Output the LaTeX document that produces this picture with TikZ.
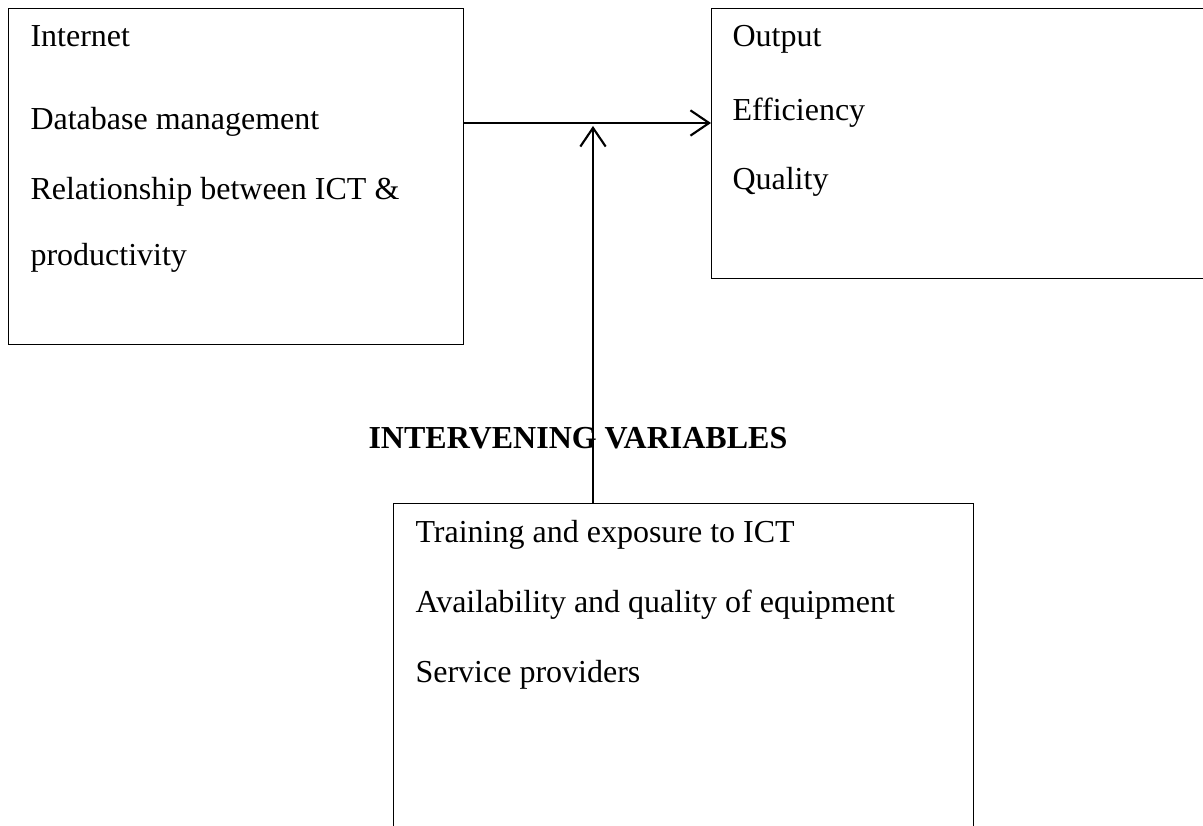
\documentclass[tikz,border=0pt]{standalone}
\usepackage{fontspec}
\setmainfont{Liberation Serif}
\usetikzlibrary{positioning,arrows.meta}

\tikzset{
  varbox/.style={draw, line width=0.5pt, anchor=north west, inner sep=0pt},
  item/.style={anchor=base west, inner sep=0pt},
  link/.style={line width=0.8pt, -{Straight Barb[length=7pt,width=9.5pt,line width=0.8pt]}}
}

\begin{document}
\begin{tikzpicture}[x=0.375pt, y=-0.375pt, font=\fontsize{12}{14}\selectfont]
\useasboundingbox (0,0) rectangle (1203,826);
\clip (0,0) rectangle (1203,826);

% Boxes
\node[varbox, minimum width=170.6pt, minimum height=126pt] (indep) at (8,8) {};
\node[varbox, minimum width=191pt, minimum height=101.3pt] (dep) at (711,8) {};
\node[varbox, minimum width=217.5pt, minimum height=131pt] (interv) at (393,503) {};

% Independent variables
\node[item] (internet) at (30,47) {Internet};
\node[item] (dbm) at (30,130) {Database management};
\node[item] (rel) at (30,200) {Relationship between ICT \&};
\node[item] (prod) at (30,266) {productivity};

% Dependent variables
\node[item] (output) at (732,47) {Output};
\node[item] (effic) at (732,121) {Efficiency};
\node[item] (quality) at (732,190) {Quality};

% Intervening variables
\node[item, font=\fontsize{12}{14}\selectfont\bfseries] (title) at (368,449) {INTERVENING VARIABLES};
\node[item] (training) at (415,543) {Training and exposure to ICT};
\node[item] (equip) at (415,613) {Availability and quality of equipment};
\node[item] (service) at (415,683) {Service providers};

% Arrows
\coordinate (meet) at (593,126);
\draw[link] (indep.east |- 0,123) -- (dep.west |- 0,123);
\draw[link] (interv.north -| meet) -- (meet);
\end{tikzpicture}
\end{document}
